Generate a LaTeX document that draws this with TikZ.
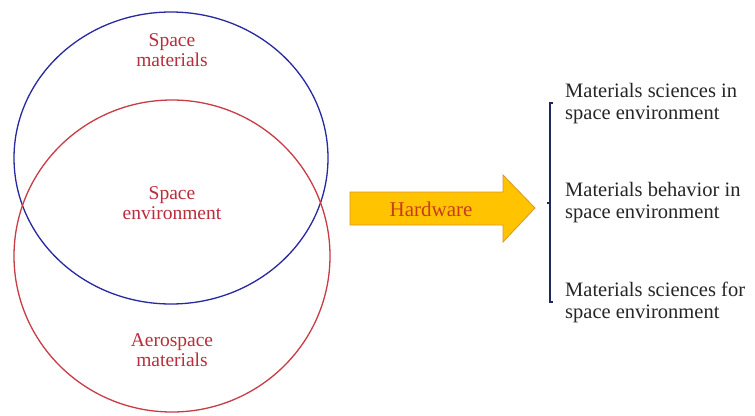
\documentclass[tikz,border=0pt]{standalone}
\usepackage{fontspec}
\setmainfont{Liberation Serif}
\begin{document}
\begin{tikzpicture}[x=1pt,y=-1pt,
  lbl/.style={text=lblred,font=\fontsize{19.5}{20}\selectfont,align=center,inner sep=0pt},
  rlbl/.style={text=black!85,font=\fontsize{20.5}{22}\selectfont,align=left,anchor=west,inner sep=0pt}]
\definecolor{lblred}{RGB}{185,45,60}
\definecolor{cblue}{RGB}{40,40,160}
\definecolor{cred}{RGB}{200,60,70}
\definecolor{navy}{RGB}{30,40,90}
\definecolor{gold}{RGB}{255,195,0}
\definecolor{goldedge}{RGB}{220,150,40}
\useasboundingbox (0,0) rectangle (755,415);
\fill[white] (0,0) rectangle (755,415);
\draw[cblue,line width=1.3pt] (171,158) ellipse [x radius=157,y radius=146];
\draw[cred,line width=1.3pt] (172,256) ellipse [x radius=158,y radius=156];
\node[lbl] (sm) at (172,50) {Space\\materials};
\node[lbl] (se) at (172,203) {Space\\environment};
\node[lbl] (am) at (172,350) {Aerospace\\materials};
\fill[gold,draw=goldedge,line width=0.8pt] (350,192) -- (503,192) -- (503,175) -- (535,208) -- (503,242) -- (503,225) -- (350,225) -- cycle;
\node[text={rgb,255:red,200;green,60;blue,30},font=\fontsize{21}{22}\selectfont,inner sep=0pt] (hw) at (431,209) {Hardware};
\draw[navy,line width=1.2pt] (553,103) -- (550,103) -- (550,302) -- (553,302);
\draw[navy,line width=1.2pt] (550,203) -- (547,203);
\node[rlbl] (t1) at (565,104) {Materials sciences in\\space environment};
\node[rlbl] (t2) at (565,203) {Materials behavior in\\space environment};
\node[rlbl] (t3) at (565,302) {Materials sciences for\\space environment};
\end{tikzpicture}
\end{document}
